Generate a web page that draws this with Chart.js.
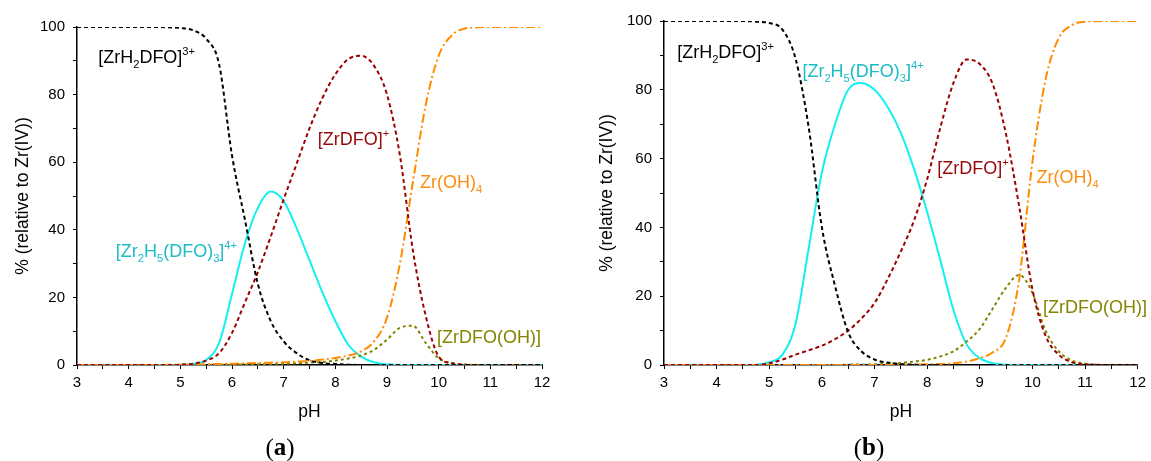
<!DOCTYPE html>
<html>
<head>
<meta charset="utf-8">
<script src="https://cdn.jsdelivr.net/npm/chart.js@4.4.1/dist/chart.umd.min.js"></script>
<style>
  body { margin: 0; background: #fff; }
  .panel { position: absolute; top: 0; height: 461px; }
  #pa { left: 0; width: 575px; }
  #pb { left: 575px; width: 576px; }
</style>
</head>
<body>
<div class="panel" id="pa"><canvas id="chartA"></canvas></div>
<div class="panel" id="pb"><canvas id="chartB"></canvas></div>
<script>
// pH grid shared by all curves
const pH = [3, 4, 4.5, 4.75, 5, 5.25, 5.5, 5.75, 6, 6.25, 6.5, 6.75, 7, 7.25, 7.5, 7.75,
            8, 8.25, 8.5, 8.75, 9, 9.25, 9.5, 9.75, 10, 10.25, 10.5, 10.75, 11, 11.5, 12];

// (a) species distribution, % relative to Zr(IV)
const aZrH2DFO = [100, 100, 100, 99.9, 99.7, 99, 96.5, 89, 62, 43, 24, 13, 7, 3.5, 1.4, 0.6,
                  0.3, 0.1, 0, 0, 0, 0, 0, 0, 0, 0, 0, 0, 0, 0, 0];
const aZr2H5 = [0, 0, 0, 0, 0.05, 0.3, 1.5, 6.5, 21, 36, 46.5, 51.3, 48.5, 40.5, 31, 21.5,
                13, 6, 2.5, 0.8, 0.2, 0, 0, 0, 0, 0, 0, 0, 0, 0, 0];
const aZrDFO = [0, 0, 0, 0, 0.1, 0.4, 1.3, 3.5, 9.5, 18.5, 27.5, 38, 49, 59.5, 70, 79,
                86, 90.5, 91.5, 88.5, 80, 62, 34, 14.5, 2.5, 0.5, 0.1, 0, 0, 0, 0];
const aZrOH4 = [0, 0, 0, 0.05, 0.1, 0.15, 0.2, 0.3, 0.4, 0.5, 0.6, 0.7, 0.8, 1, 1.2, 1.6,
                2.1, 2.8, 4, 7, 14, 30, 54, 77, 91.5, 97.5, 99.5, 99.9, 100, 100, 100];
const aZrDFOOH = [0, 0, 0, 0, 0, 0, 0, 0.05, 0.1, 0.15, 0.2, 0.3, 0.4, 0.5, 0.7, 0.9,
                  1.3, 1.9, 2.8, 4.5, 7.5, 11, 11.6, 6.5, 2, 0.6, 0.15, 0, 0, 0, 0];

// (b)
const bZrH2DFO = [100, 100, 100, 99.8, 99.4, 97.5, 89, 69, 40, 23, 9.5, 4, 1.6, 0.7, 0.3, 0.1,
                  0, 0, 0, 0, 0, 0, 0, 0, 0, 0, 0, 0, 0, 0, 0];
const bZr2H5 = [0, 0, 0, 0.1, 0.8, 3, 12, 34, 56, 70, 80, 82, 80, 75, 67.5, 57,
                44.5, 30.5, 16, 6, 2, 0.5, 0.1, 0, 0, 0, 0, 0, 0, 0, 0];
const bZrDFO = [0, 0, 0, 0, 0.5, 1.6, 3, 4.3, 5.6, 7.5, 10, 13.5, 18, 25, 33, 42,
                54, 69, 82, 88.8, 87.5, 81.5, 67, 46, 22, 8.5, 3, 0.8, 0.2, 0, 0];
const bZrOH4 = [0, 0, 0, 0, 0, 0, 0, 0, 0, 0, 0, 0, 0, 0, 0, 0.1,
                0.2, 0.3, 0.5, 1, 2, 3.7, 8, 25, 59, 83, 95, 98.8, 99.8, 100, 100];
const bZrDFOOH = [0, 0, 0, 0, 0, 0, 0, 0, 0, 0, 0.1, 0.15, 0.2, 0.4, 0.6, 1,
                  1.5, 2.5, 4, 6.8, 10.5, 16.5, 22.5, 26.2, 21, 10, 4, 1.3, 0.4, 0, 0];

// species names as [text, 'sub'|'sup'|''] parts
const nameZrH2DFO = [['[ZrH', ''], ['2', 'sub'], ['DFO]', ''], ['3+', 'sup']];
const nameZr2H5 = [['[Zr', ''], ['2', 'sub'], ['H', ''], ['5', 'sub'], ['(DFO)', ''], ['3', 'sub'], [']', ''], ['4+', 'sup']];
const nameZrDFO = [['[ZrDFO]', ''], ['+', 'sup']];
const nameZrOH4 = [['Zr(OH)', ''], ['4', 'sub']];
const nameZrDFOOH = [['[ZrDFO(OH)]', '']];

const xTitle = 'pH';
const yTitle = '% (relative to Zr(IV))';

const FONT = '"Liberation Sans", Arial, sans-serif';

const styles = {
  black:  { line: '#000000', text: '#000000', dash: [4, 3] },
  cyan:   { line: '#14f0f0', text: '#1cbcc6', dash: [] },
  red:    { line: '#9c0000', text: '#960a0a', dash: [4, 3] },
  orange: { line: '#ff8c00', text: '#ff8c10', dash: [9, 3, 2, 3] },
  olive:  { line: '#838300', text: '#858500', dash: [3, 3] }
};

function ds(values, st) {
  return {
    data: pH.map((x, i) => ({ x: x, y: values[i] })),
    borderColor: st.line,
    borderWidth: 2,
    borderDash: st.dash,
    pointRadius: 0,
    fill: false,
    cubicInterpolationMode: 'monotone'
  };
}

function drawName(ctx, parts, x, y, color, size) {
  ctx.save();
  ctx.fillStyle = color;
  ctx.textBaseline = 'alphabetic';
  ctx.textAlign = 'left';
  let cx = x;
  parts.forEach(([t, kind]) => {
    let s = size, dy = 0;
    if (kind === 'sub') { s = size * 0.62; dy = size * 0.28; }
    if (kind === 'sup') { s = size * 0.62; dy = -size * 0.45; }
    ctx.font = s + 'px ' + FONT;
    ctx.fillText(t, cx, y + dy);
    cx += ctx.measureText(t).width;
  });
  ctx.restore();
}

const namesPlugin = {
  id: 'names',
  afterDatasetsDraw(chart, args, opts) {
    const ctx = chart.ctx;
    const xs = chart.scales.x, ys = chart.scales.y;
    opts.items.forEach(it => {
      drawName(ctx, it.parts, xs.getPixelForValue(it.x), ys.getPixelForValue(it.y), it.color, 18);
    });
    // panel letter, e.g. (a)
    ctx.save();
    ctx.fillStyle = '#000';
    ctx.textBaseline = 'middle';
    ctx.textAlign = 'left';
    const f1 = '25px "Liberation Serif", "Times New Roman", serif';
    const f2 = 'bold 25px "Liberation Serif", "Times New Roman", serif';
    ctx.font = f1; const w1 = ctx.measureText('(').width;
    ctx.font = f2; const w2 = ctx.measureText(opts.letter).width;
    const total = w1 * 2 + w2;
    let lx = opts.letterX - total / 2;
    ctx.font = f1; ctx.fillText('(', lx, 449); lx += w1;
    ctx.font = f2; ctx.fillText(opts.letter, lx, 449); lx += w2;
    ctx.font = f1; ctx.fillText(')', lx, 449);
    ctx.restore();
  }
};

function makeChart(id, series, names, letter, letterX, geom) {
  const sets = [
    ds(series[0], styles.black),
    ds(series[2], styles.red),
    ds(series[3], styles.orange),
    ds(series[4], styles.olive),
    ds(series[1], styles.cyan)
  ];
  return new Chart(document.getElementById(id), {
    type: 'line',
    data: { datasets: sets },
    options: {
      responsive: true,
      maintainAspectRatio: false,
      animation: false,
      layout: { padding: { left: 0, right: geom.right, top: geom.top, bottom: 0 } },
      plugins: {
        legend: { display: false },
        tooltip: { enabled: false },
        names: { items: names, letter: letter, letterX: letterX }
      },
      scales: {
        x: {
          type: 'linear', min: 3, max: 12,
          border: { color: '#000', width: 1.5 },
          grid: { drawOnChartArea: false, drawTicks: true, tickLength: 4, color: '#000', lineWidth: 1 },
          ticks: {
            stepSize: 0.5, autoSkip: false, maxRotation: 0, padding: 5,
            color: '#000', font: { family: FONT, size: 15 },
            callback: v => Number.isInteger(v) ? String(v) : ''
          },
          title: { display: true, text: xTitle, color: '#000', font: { family: FONT, size: 17.5 }, padding: { top: 0, bottom: 38 } },
          afterFit: s => { s.height = 96; }
        },
        y: {
          min: 0, max: 100,
          border: { color: '#000', width: 1.5 },
          grid: { drawOnChartArea: false, drawTicks: true, tickLength: 4, color: '#000', lineWidth: 1 },
          ticks: {
            stepSize: 10, autoSkip: false, padding: 8,
            color: '#000', font: { family: FONT, size: 15 },
            callback: v => v % 20 === 0 ? String(v) : ''
          },
          title: { display: true, text: yTitle, color: '#000', font: { family: FONT, size: 17.5 }, padding: { top: geom.titlePad, bottom: 0 } },
          afterFit: s => { s.width = geom.yWidth; }
        }
      }
    },
    plugins: [namesPlugin]
  });
}

makeChart('chartA',
  [aZrH2DFO, aZr2H5, aZrDFO, aZrOH4, aZrDFOOH],
  [
    { parts: nameZrH2DFO, x: 3.41, y: 89.3, color: styles.black.text },
    { parts: nameZr2H5, x: 3.75, y: 32, color: styles.cyan.text },
    { parts: nameZrDFO, x: 7.66, y: 65, color: styles.red.text },
    { parts: nameZrOH4, x: 9.64, y: 52.4, color: styles.orange.text },
    { parts: nameZrDFOOH, x: 9.97, y: 6.5, color: styles.olive.text }
  ],
  'a', 280, { right: 33, top: 27, yWidth: 77, titlePad: 12.5 });

makeChart('chartB',
  [bZrH2DFO, bZr2H5, bZrDFO, bZrOH4, bZrDFOOH],
  [
    { parts: nameZrH2DFO, x: 3.25, y: 89.2, color: styles.black.text },
    { parts: nameZr2H5, x: 5.63, y: 83.7, color: styles.cyan.text },
    { parts: nameZrDFO, x: 8.19, y: 55.5, color: styles.red.text },
    { parts: nameZrOH4, x: 10.08, y: 52.9, color: styles.orange.text },
    { parts: nameZrDFOOH, x: 10.2, y: 15.1, color: styles.olive.text }
  ],
  'b', 294, { right: 12, top: 21, yWidth: 89, titlePad: 21.5 });
</script>
</body>
</html>
